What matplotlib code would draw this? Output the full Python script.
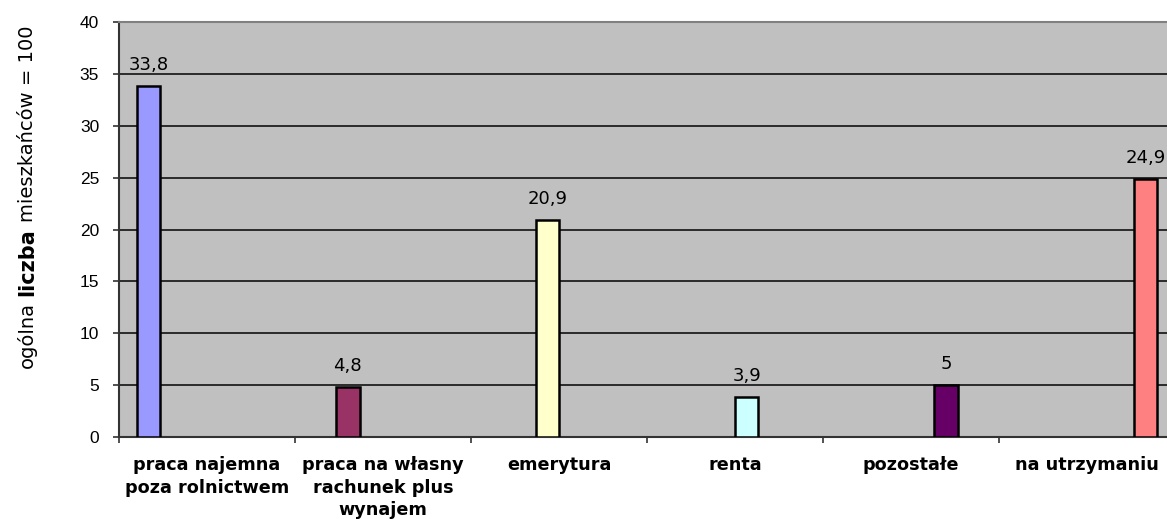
import matplotlib
matplotlib.use("Agg")
import matplotlib.pyplot as plt
import numpy as np

categories = ["praca najemna\npoza rolnictwem",
              "praca na własny\nrachunek plus\nwynajem",
              "emerytura", "renta", "pozostałe", "na utrzymaniu"]
values = [33.8, 4.8, 20.9, 3.9, 5.0, 24.9]
value_labels = ["33,8", "4,8", "20,9", "3,9", "5", "24,9"]
colors = ["#9999FF", "#993366", "#FFFFCC", "#CCFFFF", "#660066", "#FF8080"]
y_ticks = [0, 5, 10, 15, 20, 25, 30, 35, 40]
ylabel_parts = ["ogólna", "liczba", "mieszkańców = 100"]

W, H = 1167, 519
fig = plt.figure(figsize=(W / 100, H / 100), dpi=100)
ax = fig.add_axes([119 / W, 82 / H, 1056 / W, 415 / H])
ax.set_facecolor("#C0C0C0")

n = len(categories)
bw = 1 / (n + 1.5)
for i, (v, c, lab) in enumerate(zip(values, colors, value_labels)):
    x = i + (i - (n - 1) / 2) * bw
    ax.bar(x, v, width=bw, color=c, edgecolor="black", linewidth=1.8, zorder=3)
    ax.annotate(lab, (x, v), xytext=(0, 11.5), textcoords="offset points",
                ha="center", va="baseline", fontsize=13,
                family="DejaVu Sans")

ax.set_xlim(-0.5, n - 0.5)
ax.set_ylim(0, 40)
ax.set_yticks(y_ticks)
ax.set_yticklabels([str(t) for t in y_ticks], fontsize=12.5, family="Liberation Sans")
ax.tick_params(axis="y", direction="out", length=4.3, width=1.2, color="#333333", pad=10)

ax.set_xticks(np.arange(-0.5, n + 0.5, 1.0))
ax.set_xticklabels([])
ax.tick_params(axis="x", which="major", direction="out", length=4.3, width=1.2, color="#333333")
ax.set_xticks(np.arange(n), minor=True)
ax.set_xticklabels(categories, minor=True, fontsize=12.7, fontweight="bold",
                   family="DejaVu Sans", linespacing=1.3)
ax.tick_params(axis="x", which="minor", length=0, pad=14)

ax.yaxis.grid(True, color="#2a2a2a", linewidth=1.4, zorder=1)
ax.set_axisbelow(True)
for s in ["left", "bottom"]:
    ax.spines[s].set_color("#333333")
    ax.spines[s].set_linewidth(1.5)
ax.spines["top"].set_color("#808080")
ax.spines["top"].set_linewidth(1.5)
ax.spines["right"].set_visible(False)

# composite y label
fig.canvas.draw()
renderer = fig.canvas.get_renderer()
x_base = 33 / W
y_cur = (H - 368) / H
styles = [dict(fontsize=14, fontweight="normal"),
          dict(fontsize=15, fontweight="bold"),
          dict(fontsize=14, fontweight="normal")]
gap = 6 / H
for part, st in zip(ylabel_parts, styles):
    t = fig.text(x_base, y_cur, part, rotation=90, rotation_mode="anchor",
                 ha="left", va="baseline", family="DejaVu Sans", **st)
    bb = t.get_window_extent(renderer)
    y_cur += bb.height / H + gap

fig.savefig("out.png", dpi=100)
